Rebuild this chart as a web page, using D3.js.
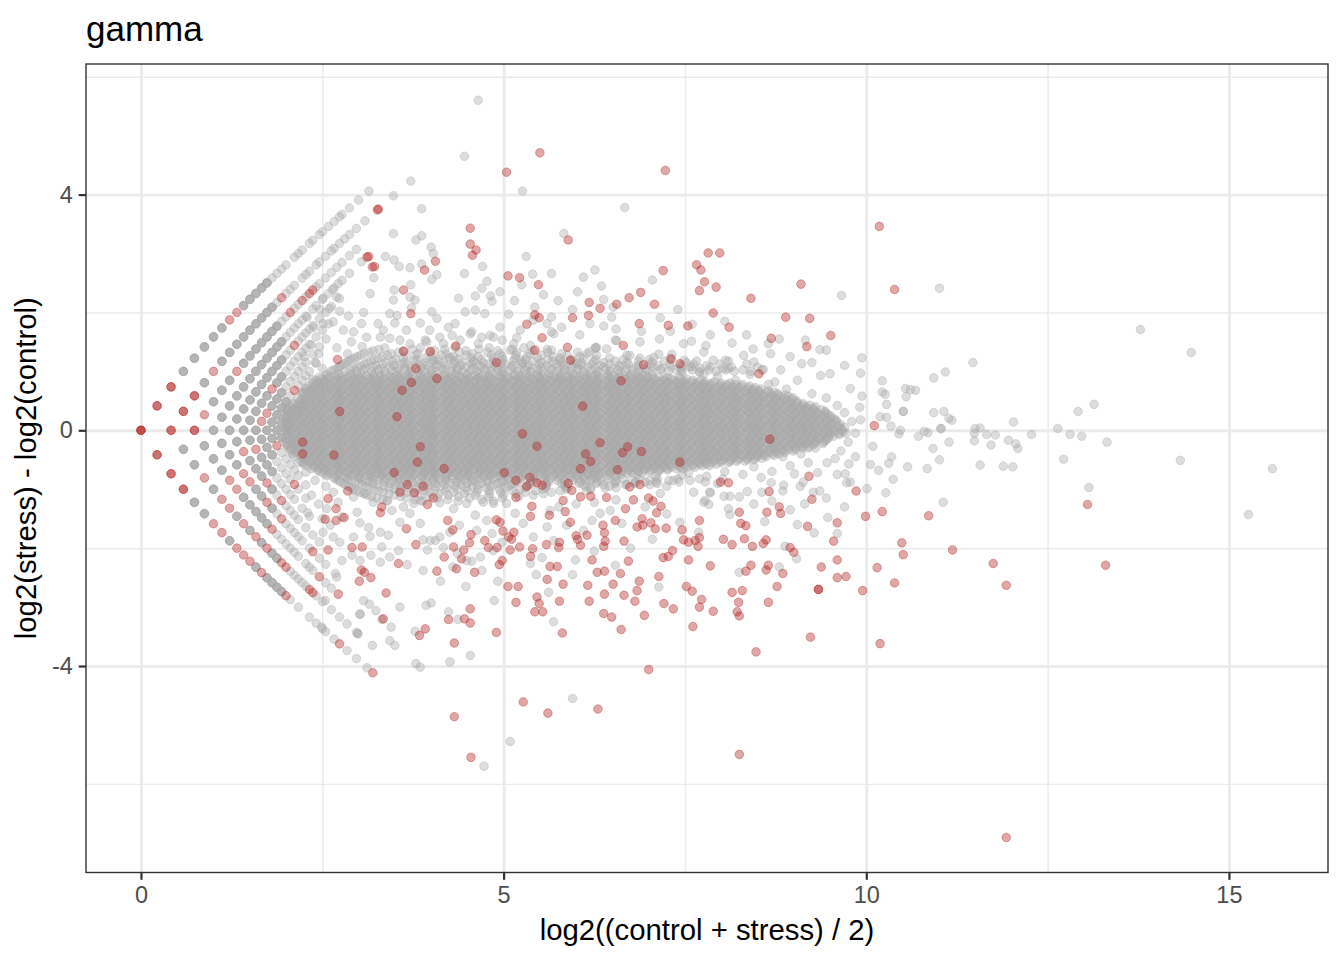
<!DOCTYPE html>
<html>
<head>
<meta charset="utf-8">
<title>gamma</title>
<script src="https://d3js.org/d3.v7.min.js"></script>
<style>
    body { margin: 0; background: #ffffff; }
    svg text { font-family: "Liberation Sans", Arial, Helvetica, sans-serif; }
</style>
</head>
<body>
<div id="chart"></div>
<script>
// Description: MA plot "gamma" - mean expression vs. log2 fold change (stress vs. control)

// Low-count genes sit on a lattice of summed counts over the replicates
const REPLICATES = 3;

// Upper side of the lattice: [control sum, genes per spot, stress sums]
const upperGray = [
    [3, 4, [6, 7, 8, 9, 10, 13, 14, 15, 16, 17]],
    [3, 1, [18, 19, 20, 21, 23, 24, 25, 27, 28, 30, 31, 33, 35, 37, 38, 41, 45, 50]],
    [4, 4, [7, 9, 10, 11, 12, 13, 14, 15, 16, 17]],
    [4, 1, [18, 20, 21, 22, 24, 25, 26, 28, 29, 31, 33, 34, 36, 38, 40, 43, 47]],
    [5, 4, [7, 8, 9, 11, 12, 13, 14, 15, 16, 17]],
    [5, 1, [18, 19, 21, 22, 24, 27, 28, 30, 32, 34, 36, 39, 42]],
    [6, 4, [6, 7, 8, 9, 10, 11, 12, 13, 14, 15, 16, 17]],
    [6, 1, [18, 19, 20, 21, 22, 23, 25, 26, 28, 30, 32, 35, 38]],
    [7, 4, [7, 8, 9, 10, 11, 12, 13, 14, 15, 16]],
    [7, 1, [17, 18, 20, 21, 22, 23, 24, 26, 28, 30, 33]],
    [8, 4, [8, 9, 10, 11, 12, 14, 15]],
    [8, 1, [16, 17, 18, 19, 20, 21, 22, 24, 26, 28]],
    [9, 4, [9, 12, 13, 14]],
    [9, 1, [15, 16, 17, 18, 19, 20, 22, 24]],
    [10, 4, [10, 11, 12, 13, 14]],
    [10, 1, [15, 17, 18, 19, 20, 22]],
    [11, 4, [11, 12, 13]],
    [11, 1, [14, 15, 16, 17, 18, 20]],
    [12, 4, [12, 13]],
    [12, 1, [14, 15, 16, 17, 19]]
];
const upperRed = [
    [3, 3, [3]],
    [3, 2, [4, 5]],
    [3, 1, [11, 12]],
    [4, 2, [4, 5, 6]],
    [4, 1, [8, 19, 54]],
    [5, 2, [5]],
    [5, 1, [6, 10, 20, 23, 25, 26]],
    [6, 1, [46]],
    [7, 1, [19]],
    [8, 1, [13]],
    [9, 1, [10, 11]],
    [10, 1, [16]]
];

// Lower side of the lattice: [stress sum, genes per spot, control sums]
const lowerGray = [
    [3, 4, [7, 8, 11, 15, 17, 18, 19, 20]],
    [3, 1, [22, 24, 27, 29, 31, 32, 35, 40, 44, 49]],
    [4, 4, [5, 6, 8, 11, 13, 15, 17, 18]],
    [4, 1, [21, 22, 23, 24, 25, 28, 30, 33, 36, 39, 43]],
    [5, 4, [6, 7, 8, 11, 12, 13, 14, 15]],
    [5, 1, [17, 18, 19, 20, 21, 22, 24, 25, 26, 30, 32]],
    [6, 4, [7, 8, 9, 12, 13, 15]],
    [6, 1, [16, 18, 19, 20, 21, 22, 24, 27, 29]],
    [7, 4, [8, 10, 11, 12, 14]],
    [7, 1, [15, 17, 18, 19, 20, 22, 24, 26]],
    [8, 4, [9, 11, 12, 13]],
    [8, 1, [14, 15, 16, 17, 18, 20, 22]],
    [9, 4, [10, 11, 12]],
    [9, 1, [13, 14, 15, 16, 18, 20]],
    [10, 4, [11]],
    [10, 1, [13, 14, 15, 16, 17, 19]],
    [11, 4, [12]],
    [11, 1, [13, 14, 15, 16, 18]],
    [12, 1, [13, 14, 15, 17]]
];
const lowerRed = [
    [3, 2, [4, 5, 6]],
    [3, 1, [9, 10, 12, 13, 14, 16, 21, 37, 52]],
    [4, 1, [7, 9, 10, 12, 14, 16, 19, 20, 26, 27]],
    [5, 1, [9, 10, 16, 28]],
    [6, 1, [10, 11, 14, 17, 25]],
    [7, 1, [9, 13, 16]],
    [8, 1, [10]],
    [9, 1, [17]],
    [10, 1, [12]]
];

// Dense body of the cloud, read row by row: [log2 ratio, mean log2 expression values]
const coreRows = [
    [1.40, [3.36, 3.85, 4.33, 4.80, 5.28]],
    [1.35, [3.20, 3.62, 4.05, 4.48, 4.92, 5.40]],
    [1.30, [3.08, 3.45, 3.82, 4.21, 4.57, 4.95, 5.36, 5.80]],
    [1.25, [2.98, 3.33, 3.66, 4.00, 4.31, 4.65, 4.98, 5.32, 5.68, 6.05]],
    [1.20, [2.90, 3.22, 3.51, 3.80, 4.10, 4.38, 4.69, 4.99, 5.30, 5.61, 5.93, 6.27, 6.65]],
    [1.15, [2.83, 3.12, 3.38, 3.63, 3.91, 4.17, 4.43, 4.72, 4.97, 5.26, 5.52, 5.80, 6.07, 6.38, 6.70, 7.05, 7.52]],
    [1.10, [2.76, 3.02, 3.24, 3.49, 3.70, 3.95, 4.19, 4.41, 4.66, 4.88, 5.12, 5.35, 5.60, 5.83, 6.08, 6.33, 6.59, 6.86, 7.13, 7.45, 7.80]],
    [1.05, [2.70, 2.93, 3.10, 3.31, 3.55, 3.72, 3.96, 4.15, 4.36, 4.58, 4.77, 4.99, 5.22, 5.40, 5.63, 5.85, 6.03, 6.27, 6.48, 6.70, 6.94, 7.18, 7.44, 7.71, 8.02]],
    [1.00, [2.62, 2.81, 2.97, 3.18, 3.36, 3.52, 3.73, 3.90, 4.07, 4.28, 4.44, 4.63, 4.82, 4.98, 5.19, 5.37, 5.53, 5.74, 5.91, 6.10, 6.30, 6.47, 6.68, 6.86, 7.05, 7.27, 7.46, 7.70, 7.93, 8.18, 8.41]],
    [0.95, [2.57, 2.72, 2.90, 3.04, 3.21, 3.37, 3.56, 3.69, 3.86, 4.01, 4.19, 4.33, 4.50, 4.66, 4.85, 4.98, 5.15, 5.30, 5.48, 5.62, 5.79, 5.95, 6.14, 6.27, 6.44, 6.59, 6.77, 6.91]],
    [0.90, [2.46, 2.59, 2.74, 2.86, 3.02, 3.16, 3.29, 3.44, 3.56, 3.69, 3.84, 3.96, 4.12, 4.26, 4.39, 4.54, 4.66, 4.79, 4.94, 5.06, 5.22, 5.36, 5.49, 5.64, 5.76, 5.89, 6.04, 6.16, 6.32, 6.46, 6.59, 6.74, 6.86, 6.99, 7.14, 7.26, 7.42]],
    [0.85, [2.41, 2.53, 2.67, 2.78, 2.93, 3.06, 3.18, 3.32, 3.45, 3.57, 3.71, 3.82, 3.97, 4.10, 4.22, 4.36, 4.49, 4.61, 4.75, 4.86, 5.01, 5.14, 5.26, 5.40, 5.53, 5.65, 5.79, 5.90, 6.05, 6.18, 6.30, 6.44, 6.57, 6.69, 6.83, 6.94, 7.09, 7.22, 7.34, 7.48, 7.61, 7.73]],
    [0.80, [2.36, 2.47, 2.60, 2.70, 2.84, 2.96, 3.07, 3.20, 3.32, 3.43, 3.56, 3.66, 3.80, 3.92, 4.03, 4.16, 4.28, 4.39, 4.52, 4.62, 4.76, 4.88, 4.99, 5.12, 5.24, 5.35, 5.48, 5.58, 5.72, 5.84, 5.95, 6.08, 6.20, 6.31, 6.44, 6.54, 6.68, 6.80, 6.91, 7.04, 7.16, 7.27, 7.40, 7.50, 7.64, 7.76, 7.87, 8.00, 8.12]],
    [0.75, [2.31, 2.41, 2.53, 2.62, 2.73, 2.86, 2.96, 3.04, 3.16, 3.27, 3.37, 3.50, 3.59, 3.69, 3.81, 3.90, 4.01, 4.14, 4.24, 4.32, 4.44, 4.55, 4.65, 4.78, 4.87, 4.97, 5.09, 5.18, 5.29, 5.42, 5.52, 5.60, 5.72, 5.83, 5.93, 6.06, 6.15, 6.25, 6.37, 6.46, 6.57, 6.70, 6.80, 6.88, 7.00, 7.11, 7.21, 7.34, 7.43, 7.53, 7.65, 7.74, 7.85, 7.98, 8.08, 8.16, 8.28, 8.39]],
    [0.70, [2.27, 2.36, 2.47, 2.60, 2.70, 2.78, 2.90, 3.01, 3.11, 3.24, 3.33, 3.43, 3.55, 3.64, 3.75, 3.88, 3.98, 4.06, 4.18, 4.29, 4.39, 4.52, 4.61, 4.71, 4.83, 4.92, 5.03, 5.16, 5.26, 5.34, 5.46, 5.57, 5.67, 5.80, 5.89, 5.99, 6.11, 6.20, 6.31, 6.44, 6.54, 6.62, 6.74, 6.85, 6.95, 7.08, 7.17, 7.27, 7.39, 7.48, 7.59, 7.72, 7.82, 7.90, 8.02, 8.13, 8.23, 8.36, 8.45, 8.55]],
    [0.65, [2.24, 2.33, 2.44, 2.57, 2.67, 2.75, 2.87, 2.98, 3.08, 3.21, 3.30, 3.40, 3.52, 3.61, 3.72, 3.85, 3.95, 4.03, 4.15, 4.26, 4.36, 4.49, 4.58, 4.68, 4.80, 4.89, 5.00, 5.13, 5.23, 5.31, 5.43, 5.54, 5.64, 5.77, 5.86, 5.96, 6.08, 6.17, 6.28, 6.41, 6.51, 6.59, 6.71, 6.82, 6.92, 7.05, 7.14, 7.24, 7.36, 7.45, 7.56, 7.69, 7.79, 7.87, 7.99, 8.10, 8.20, 8.33, 8.42, 8.52, 8.64, 8.73]],
    [0.60, [2.29, 2.38, 2.49, 2.62, 2.72, 2.80, 2.92, 3.03, 3.13, 3.26, 3.35, 3.45, 3.57, 3.66, 3.77, 3.90, 4.00, 4.08, 4.20, 4.31, 4.41, 4.54, 4.63, 4.73, 4.85, 4.94, 5.05, 5.18, 5.28, 5.36, 5.48, 5.59, 5.69, 5.82, 5.91, 6.01, 6.13, 6.22, 6.33, 6.46, 6.56, 6.64, 6.76, 6.87, 6.97, 7.10, 7.19, 7.29, 7.41, 7.50, 7.61, 7.74, 7.84, 7.92, 8.04, 8.15, 8.25, 8.38, 8.47, 8.57, 8.69, 8.78, 8.89]],
    [0.55, [2.26, 2.35, 2.46, 2.59, 2.69, 2.77, 2.89, 3.00, 3.10, 3.23, 3.32, 3.42, 3.54, 3.63, 3.74, 3.87, 3.97, 4.05, 4.17, 4.28, 4.38, 4.51, 4.60, 4.70, 4.82, 4.91, 5.02, 5.15, 5.25, 5.33, 5.45, 5.56, 5.66, 5.79, 5.88, 5.98, 6.10, 6.19, 6.30, 6.43, 6.53, 6.61, 6.73, 6.84, 6.94, 7.07, 7.16, 7.26, 7.38, 7.47, 7.58, 7.71, 7.81, 7.89, 8.01, 8.12, 8.22, 8.35, 8.44, 8.54, 8.66, 8.75, 8.86, 8.99]],
    [0.50, [2.19, 2.31, 2.40, 2.51, 2.64, 2.74, 2.82, 2.94, 3.05, 3.15, 3.28, 3.37, 3.47, 3.59, 3.68, 3.79, 3.92, 4.02, 4.10, 4.22, 4.33, 4.43, 4.56, 4.65, 4.75, 4.87, 4.96, 5.07, 5.20, 5.30, 5.38, 5.50, 5.61, 5.71, 5.84, 5.93, 6.03, 6.15, 6.24, 6.35, 6.48, 6.58, 6.66, 6.78, 6.89, 6.99, 7.12, 7.21, 7.31, 7.43, 7.52, 7.63, 7.76, 7.86, 7.94, 8.06, 8.17, 8.27, 8.40, 8.49, 8.59, 8.71, 8.80, 8.91, 9.04]],
    [0.45, [2.10, 2.22, 2.31, 2.42, 2.55, 2.65, 2.73, 2.85, 2.96, 3.06, 3.19, 3.28, 3.38, 3.50, 3.59, 3.70, 3.83, 3.93, 4.01, 4.13, 4.24, 4.34, 4.47, 4.56, 4.66, 4.78, 4.87, 4.98, 5.11, 5.21, 5.29, 5.41, 5.52, 5.62, 5.75, 5.84, 5.94, 6.06, 6.15, 6.26, 6.39, 6.49, 6.57, 6.69, 6.80, 6.90, 7.03, 7.12, 7.22, 7.34, 7.43, 7.54, 7.67, 7.77, 7.85, 7.97, 8.08, 8.18, 8.31, 8.40, 8.50, 8.62, 8.71, 8.82, 8.95, 9.05, 9.13]],
    [0.40, [2.05, 2.15, 2.27, 2.36, 2.47, 2.60, 2.70, 2.78, 2.90, 3.01, 3.11, 3.24, 3.33, 3.43, 3.55, 3.64, 3.75, 3.88, 3.98, 4.06, 4.18, 4.29, 4.39, 4.52, 4.61, 4.71, 4.83, 4.92, 5.03, 5.16, 5.26, 5.34, 5.46, 5.57, 5.67, 5.80, 5.89, 5.99, 6.11, 6.20, 6.31, 6.44, 6.54, 6.62, 6.74, 6.85, 6.95, 7.08, 7.17, 7.27, 7.39, 7.48, 7.59, 7.72, 7.82, 7.90, 8.02, 8.13, 8.23, 8.36, 8.45, 8.55, 8.67, 8.76, 8.87, 9.00, 9.10, 9.18, 9.30]],
    [0.35, [2.02, 2.12, 2.24, 2.33, 2.44, 2.57, 2.67, 2.75, 2.87, 2.98, 3.08, 3.21, 3.30, 3.40, 3.52, 3.61, 3.72, 3.85, 3.95, 4.03, 4.15, 4.26, 4.36, 4.49, 4.58, 4.68, 4.80, 4.89, 5.00, 5.13, 5.23, 5.31, 5.43, 5.54, 5.64, 5.77, 5.86, 5.96, 6.08, 6.17, 6.28, 6.41, 6.51, 6.59, 6.71, 6.82, 6.92, 7.05, 7.14, 7.24, 7.36, 7.45, 7.56, 7.69, 7.79, 7.87, 7.99, 8.10, 8.20, 8.33, 8.42, 8.52, 8.64, 8.73, 8.84, 8.97, 9.07, 9.15, 9.27, 9.38]],
    [0.30, [2.07, 2.17, 2.29, 2.38, 2.49, 2.62, 2.72, 2.80, 2.92, 3.03, 3.13, 3.26, 3.35, 3.45, 3.57, 3.66, 3.77, 3.90, 4.00, 4.08, 4.20, 4.31, 4.41, 4.54, 4.63, 4.73, 4.85, 4.94, 5.05, 5.18, 5.28, 5.36, 5.48, 5.59, 5.69, 5.82, 5.91, 6.01, 6.13, 6.22, 6.33, 6.46, 6.56, 6.64, 6.76, 6.87, 6.97, 7.10, 7.19, 7.29, 7.41, 7.50, 7.61, 7.74, 7.84, 7.92, 8.04, 8.15, 8.25, 8.38, 8.47, 8.57, 8.69, 8.78, 8.89, 9.02, 9.12, 9.20, 9.32, 9.43]],
    [0.25, [2.04, 2.14, 2.26, 2.35, 2.46, 2.59, 2.69, 2.77, 2.89, 3.00, 3.10, 3.23, 3.32, 3.42, 3.54, 3.63, 3.74, 3.87, 3.97, 4.05, 4.17, 4.28, 4.38, 4.51, 4.60, 4.70, 4.82, 4.91, 5.02, 5.15, 5.25, 5.33, 5.45, 5.56, 5.66, 5.79, 5.88, 5.98, 6.10, 6.19, 6.30, 6.43, 6.53, 6.61, 6.73, 6.84, 6.94, 7.07, 7.16, 7.26, 7.38, 7.47, 7.58, 7.71, 7.81, 7.89, 8.01, 8.12, 8.22, 8.35, 8.44, 8.54, 8.66, 8.75, 8.86, 8.99, 9.09, 9.17, 9.29, 9.40, 9.50]],
    [0.20, [2.09, 2.19, 2.31, 2.40, 2.51, 2.64, 2.74, 2.82, 2.94, 3.05, 3.15, 3.28, 3.37, 3.47, 3.59, 3.68, 3.79, 3.92, 4.02, 4.10, 4.22, 4.33, 4.43, 4.56, 4.65, 4.75, 4.87, 4.96, 5.07, 5.20, 5.30, 5.38, 5.50, 5.61, 5.71, 5.84, 5.93, 6.03, 6.15, 6.24, 6.35, 6.48, 6.58, 6.66, 6.78, 6.89, 6.99, 7.12, 7.21, 7.31, 7.43, 7.52, 7.63, 7.76, 7.86, 7.94, 8.06, 8.17, 8.27, 8.40, 8.49, 8.59, 8.71, 8.80, 8.91, 9.04, 9.14, 9.22, 9.34, 9.45, 9.55]],
    [0.15, [2.00, 2.10, 2.22, 2.31, 2.42, 2.55, 2.65, 2.73, 2.85, 2.96, 3.06, 3.19, 3.28, 3.38, 3.50, 3.59, 3.70, 3.83, 3.93, 4.01, 4.13, 4.24, 4.34, 4.47, 4.56, 4.66, 4.78, 4.87, 4.98, 5.11, 5.21, 5.29, 5.41, 5.52, 5.62, 5.75, 5.84, 5.94, 6.06, 6.15, 6.26, 6.39, 6.49, 6.57, 6.69, 6.80, 6.90, 7.03, 7.12, 7.22, 7.34, 7.43, 7.54, 7.67, 7.77, 7.85, 7.97, 8.08, 8.18, 8.31, 8.40, 8.50, 8.62, 8.71, 8.82, 8.95, 9.05, 9.13, 9.25, 9.36, 9.46, 9.59]],
    [0.10, [2.05, 2.15, 2.27, 2.36, 2.47, 2.60, 2.70, 2.78, 2.90, 3.01, 3.11, 3.24, 3.33, 3.43, 3.55, 3.64, 3.75, 3.88, 3.98, 4.06, 4.18, 4.29, 4.39, 4.52, 4.61, 4.71, 4.83, 4.92, 5.03, 5.16, 5.26, 5.34, 5.46, 5.57, 5.67, 5.80, 5.89, 5.99, 6.11, 6.20, 6.31, 6.44, 6.54, 6.62, 6.74, 6.85, 6.95, 7.08, 7.17, 7.27, 7.39, 7.48, 7.59, 7.72, 7.82, 7.90, 8.02, 8.13, 8.23, 8.36, 8.45, 8.55, 8.67, 8.76, 8.87, 9.00, 9.10, 9.18, 9.30, 9.41, 9.51, 9.64]],
    [0.05, [2.02, 2.12, 2.24, 2.33, 2.44, 2.57, 2.67, 2.75, 2.87, 2.98, 3.08, 3.21, 3.30, 3.40, 3.52, 3.61, 3.72, 3.85, 3.95, 4.03, 4.15, 4.26, 4.36, 4.49, 4.58, 4.68, 4.80, 4.89, 5.00, 5.13, 5.23, 5.31, 5.43, 5.54, 5.64, 5.77, 5.86, 5.96, 6.08, 6.17, 6.28, 6.41, 6.51, 6.59, 6.71, 6.82, 6.92, 7.05, 7.14, 7.24, 7.36, 7.45, 7.56, 7.69, 7.79, 7.87, 7.99, 8.10, 8.20, 8.33, 8.42, 8.52, 8.64, 8.73, 8.84, 8.97, 9.07, 9.15, 9.27, 9.38, 9.48, 9.61, 9.70]],
    [0.00, [2.07, 2.17, 2.29, 2.38, 2.49, 2.62, 2.72, 2.80, 2.92, 3.03, 3.13, 3.26, 3.35, 3.45, 3.57, 3.66, 3.77, 3.90, 4.00, 4.08, 4.20, 4.31, 4.41, 4.54, 4.63, 4.73, 4.85, 4.94, 5.05, 5.18, 5.28, 5.36, 5.48, 5.59, 5.69, 5.82, 5.91, 6.01, 6.13, 6.22, 6.33, 6.46, 6.56, 6.64, 6.76, 6.87, 6.97, 7.10, 7.19, 7.29, 7.41, 7.50, 7.61, 7.74, 7.84, 7.92, 8.04, 8.15, 8.25, 8.38, 8.47, 8.57, 8.69, 8.78, 8.89, 9.02, 9.12, 9.20, 9.32, 9.43, 9.53, 9.66]],
    [-0.05, [2.04, 2.14, 2.26, 2.35, 2.46, 2.59, 2.69, 2.77, 2.89, 3.00, 3.10, 3.23, 3.32, 3.42, 3.54, 3.63, 3.74, 3.87, 3.97, 4.05, 4.17, 4.28, 4.38, 4.51, 4.60, 4.70, 4.82, 4.91, 5.02, 5.15, 5.25, 5.33, 5.45, 5.56, 5.66, 5.79, 5.88, 5.98, 6.10, 6.19, 6.30, 6.43, 6.53, 6.61, 6.73, 6.84, 6.94, 7.07, 7.16, 7.26, 7.38, 7.47, 7.58, 7.71, 7.81, 7.89, 8.01, 8.12, 8.22, 8.35, 8.44, 8.54, 8.66, 8.75, 8.86, 8.99, 9.09, 9.17, 9.29, 9.40, 9.50, 9.63, 9.72]],
    [-0.10, [2.09, 2.19, 2.31, 2.40, 2.51, 2.64, 2.74, 2.82, 2.94, 3.05, 3.15, 3.28, 3.37, 3.47, 3.59, 3.68, 3.79, 3.92, 4.02, 4.10, 4.22, 4.33, 4.43, 4.56, 4.65, 4.75, 4.87, 4.96, 5.07, 5.20, 5.30, 5.38, 5.50, 5.61, 5.71, 5.84, 5.93, 6.03, 6.15, 6.24, 6.35, 6.48, 6.58, 6.66, 6.78, 6.89, 6.99, 7.12, 7.21, 7.31, 7.43, 7.52, 7.63, 7.76, 7.86, 7.94, 8.06, 8.17, 8.27, 8.40, 8.49, 8.59, 8.71, 8.80, 8.91, 9.04, 9.14, 9.22, 9.34, 9.45, 9.55]],
    [-0.15, [2.00, 2.10, 2.22, 2.31, 2.42, 2.55, 2.65, 2.73, 2.85, 2.96, 3.06, 3.19, 3.28, 3.38, 3.50, 3.59, 3.70, 3.83, 3.93, 4.01, 4.13, 4.24, 4.34, 4.47, 4.56, 4.66, 4.78, 4.87, 4.98, 5.11, 5.21, 5.29, 5.41, 5.52, 5.62, 5.75, 5.84, 5.94, 6.06, 6.15, 6.26, 6.39, 6.49, 6.57, 6.69, 6.80, 6.90, 7.03, 7.12, 7.22, 7.34, 7.43, 7.54, 7.67, 7.77, 7.85, 7.97, 8.08, 8.18, 8.31, 8.40, 8.50, 8.62, 8.71, 8.82, 8.95, 9.05, 9.13, 9.25, 9.36, 9.46]],
    [-0.20, [2.05, 2.15, 2.27, 2.36, 2.47, 2.60, 2.70, 2.78, 2.90, 3.01, 3.11, 3.24, 3.33, 3.43, 3.55, 3.64, 3.75, 3.88, 3.98, 4.06, 4.18, 4.29, 4.39, 4.52, 4.61, 4.71, 4.83, 4.92, 5.03, 5.16, 5.26, 5.34, 5.46, 5.57, 5.67, 5.80, 5.89, 5.99, 6.11, 6.20, 6.31, 6.44, 6.54, 6.62, 6.74, 6.85, 6.95, 7.08, 7.17, 7.27, 7.39, 7.48, 7.59, 7.72, 7.82, 7.90, 8.02, 8.13, 8.23, 8.36, 8.45, 8.55, 8.67, 8.76, 8.87, 9.00, 9.10, 9.18, 9.30, 9.41]],
    [-0.25, [2.02, 2.12, 2.24, 2.33, 2.44, 2.57, 2.67, 2.75, 2.87, 2.98, 3.08, 3.21, 3.30, 3.40, 3.52, 3.61, 3.72, 3.85, 3.95, 4.03, 4.15, 4.26, 4.36, 4.49, 4.58, 4.68, 4.80, 4.89, 5.00, 5.13, 5.23, 5.31, 5.43, 5.54, 5.64, 5.77, 5.86, 5.96, 6.08, 6.17, 6.28, 6.41, 6.51, 6.59, 6.71, 6.82, 6.92, 7.05, 7.14, 7.24, 7.36, 7.45, 7.56, 7.69, 7.79, 7.87, 7.99, 8.10, 8.20, 8.33, 8.42, 8.52, 8.64, 8.73, 8.84, 8.97, 9.07, 9.15, 9.27]],
    [-0.30, [2.07, 2.17, 2.29, 2.38, 2.49, 2.62, 2.72, 2.80, 2.92, 3.03, 3.13, 3.26, 3.35, 3.45, 3.57, 3.66, 3.77, 3.90, 4.00, 4.08, 4.20, 4.31, 4.41, 4.54, 4.63, 4.73, 4.85, 4.94, 5.05, 5.18, 5.28, 5.36, 5.48, 5.59, 5.69, 5.82, 5.91, 6.01, 6.13, 6.22, 6.33, 6.46, 6.56, 6.64, 6.76, 6.87, 6.97, 7.10, 7.19, 7.29, 7.41, 7.50, 7.61, 7.74, 7.84, 7.92, 8.04, 8.15, 8.25, 8.38, 8.47, 8.57, 8.69, 8.78, 8.89, 9.02, 9.12, 9.20]],
    [-0.35, [2.14, 2.26, 2.35, 2.46, 2.59, 2.69, 2.77, 2.89, 3.00, 3.10, 3.23, 3.32, 3.42, 3.54, 3.63, 3.74, 3.87, 3.97, 4.05, 4.17, 4.28, 4.38, 4.51, 4.60, 4.70, 4.82, 4.91, 5.02, 5.15, 5.25, 5.33, 5.45, 5.56, 5.66, 5.79, 5.88, 5.98, 6.10, 6.19, 6.30, 6.43, 6.53, 6.61, 6.73, 6.84, 6.94, 7.07, 7.16, 7.26, 7.38, 7.47, 7.58, 7.71, 7.81, 7.89, 8.01, 8.12, 8.22, 8.35, 8.44, 8.54, 8.66, 8.75, 8.86, 8.99]],
    [-0.40, [2.09, 2.19, 2.31, 2.40, 2.51, 2.64, 2.74, 2.82, 2.94, 3.05, 3.15, 3.28, 3.37, 3.47, 3.59, 3.68, 3.79, 3.92, 4.02, 4.10, 4.22, 4.33, 4.43, 4.56, 4.65, 4.75, 4.87, 4.96, 5.07, 5.20, 5.30, 5.38, 5.50, 5.61, 5.71, 5.84, 5.93, 6.03, 6.15, 6.24, 6.35, 6.48, 6.58, 6.66, 6.78, 6.89, 6.99, 7.12, 7.21, 7.31, 7.43, 7.52, 7.63, 7.76, 7.86, 7.94, 8.06, 8.17, 8.27, 8.40, 8.49, 8.59, 8.71, 8.80]],
    [-0.45, [2.22, 2.31, 2.42, 2.55, 2.65, 2.73, 2.85, 2.96, 3.06, 3.19, 3.28, 3.38, 3.50, 3.59, 3.70, 3.83, 3.93, 4.01, 4.13, 4.24, 4.34, 4.47, 4.56, 4.66, 4.78, 4.87, 4.98, 5.11, 5.21, 5.29, 5.41, 5.52, 5.62, 5.75, 5.84, 5.94, 6.06, 6.15, 6.26, 6.39, 6.49, 6.57, 6.69, 6.80, 6.90, 7.03, 7.12, 7.22, 7.34, 7.43, 7.54, 7.67, 7.77, 7.85, 7.97, 8.08, 8.18, 8.31, 8.40, 8.50, 8.62]],
    [-0.50, [2.27, 2.36, 2.47, 2.60, 2.70, 2.78, 2.90, 3.01, 3.11, 3.24, 3.33, 3.43, 3.55, 3.64, 3.75, 3.88, 3.98, 4.06, 4.18, 4.29, 4.39, 4.52, 4.61, 4.71, 4.83, 4.92, 5.03, 5.16, 5.26, 5.34, 5.46, 5.57, 5.67, 5.80, 5.89, 5.99, 6.11, 6.20, 6.31, 6.44, 6.54, 6.62, 6.74, 6.85, 6.95, 7.08, 7.17, 7.27, 7.39, 7.48, 7.59, 7.72, 7.82, 7.90, 8.02, 8.13, 8.23, 8.36, 8.45]],
    [-0.55, [2.24, 2.33, 2.44, 2.57, 2.67, 2.75, 2.87, 2.98, 3.08, 3.21, 3.30, 3.40, 3.52, 3.61, 3.72, 3.85, 3.95, 4.03, 4.15, 4.26, 4.36, 4.49, 4.58, 4.68, 4.80, 4.89, 5.00, 5.13, 5.23, 5.31, 5.43, 5.54, 5.64, 5.77, 5.86, 5.96, 6.08, 6.17, 6.28, 6.41, 6.51, 6.59, 6.71, 6.82, 6.92, 7.05, 7.14, 7.24, 7.36, 7.45, 7.56, 7.69, 7.79, 7.87, 7.99, 8.10]],
    [-0.60, [2.29, 2.38, 2.49, 2.62, 2.72, 2.80, 2.92, 3.03, 3.13, 3.26, 3.35, 3.45, 3.57, 3.66, 3.77, 3.90, 4.00, 4.08, 4.20, 4.31, 4.41, 4.54, 4.63, 4.73, 4.85, 4.94, 5.05, 5.18, 5.28, 5.36, 5.48, 5.59, 5.69, 5.82, 5.91, 6.01, 6.13, 6.22, 6.33, 6.46, 6.56, 6.64, 6.76, 6.87, 6.97, 7.10, 7.19, 7.29, 7.41, 7.50, 7.61, 7.74, 7.84]],
    [-0.65, [2.35, 2.46, 2.59, 2.69, 2.77, 2.89, 3.00, 3.10, 3.23, 3.32, 3.42, 3.54, 3.63, 3.74, 3.87, 3.97, 4.05, 4.17, 4.28, 4.38, 4.51, 4.60, 4.70, 4.82, 4.91, 5.02, 5.15, 5.25, 5.33, 5.45, 5.56, 5.66, 5.79, 5.88, 5.98, 6.10, 6.19, 6.30, 6.43, 6.53, 6.61, 6.73, 6.84, 6.94, 7.07, 7.16, 7.26, 7.38, 7.47]],
    [-0.70, [2.46, 2.58, 2.72, 2.85, 2.96, 3.11, 3.24, 3.36, 3.50, 3.63, 3.74, 3.89, 4.02, 4.14, 4.28, 4.41, 4.52, 4.67, 4.80, 4.92, 5.06, 5.19, 5.30, 5.45, 5.58, 5.70, 5.84, 5.97, 6.08, 6.23, 6.36, 6.48, 6.62, 6.75, 6.86, 7.01, 7.13]],
    [-0.75, [2.57, 2.71, 2.87, 3.01, 3.16, 3.32, 3.46, 3.61, 3.77, 3.91, 4.06, 4.22, 4.36, 4.51, 4.67, 4.81, 4.96, 5.12, 5.26, 5.41, 5.57, 5.71, 5.86, 6.02, 6.16, 6.31, 6.47, 6.62]],
    [-0.80, [2.66, 2.83, 3.01, 3.17, 3.35, 3.52, 3.69, 3.87, 4.03, 4.21, 4.38, 4.55, 4.73, 4.89, 5.07, 5.24, 5.41, 5.59, 5.75, 5.93, 6.10, 6.27]],
    [-0.85, [2.72, 2.90, 3.09, 3.26, 3.47, 3.64, 3.83, 4.03, 4.20, 4.41, 4.59, 4.78, 4.99, 5.16, 5.37, 5.56, 5.74, 5.95, 6.13, 6.34, 6.55, 6.77, 7.01, 7.28, 7.57]],
    [-0.90, [2.79, 3.01, 3.20, 3.43, 3.62, 3.85, 4.06, 4.27, 4.50, 4.70, 4.93, 5.14, 5.36, 5.59, 5.80, 6.04, 6.28, 6.53, 6.81, 7.12]],
    [-0.95, [2.86, 3.11, 3.35, 3.58, 3.84, 4.07, 4.33, 4.57, 4.82, 5.07, 5.32, 5.58, 5.85, 6.14, 6.46]],
    [-1.00, [2.93, 3.22, 3.50, 3.79, 4.06, 4.36, 4.64, 4.94, 5.23, 5.54, 5.86, 6.20]],
    [-1.05, [3.02, 3.34, 3.67, 3.98, 4.31, 4.63, 4.96, 5.30, 5.66]],
    [-1.10, [3.12, 3.49, 3.86, 4.24, 4.61, 5.00, 5.41]],
    [-1.15, [3.25, 3.66, 4.09, 4.53, 4.98]],
    [-1.20, [3.40, 3.88, 4.37, 4.86]]
];

// Second pass over the dense body, rows in between the ones above
const coreRowsBetween = [
    [1.375, [3.28, 3.74, 4.19, 4.66, 5.12, 5.60]],
    [1.325, [3.15, 3.55, 3.98, 4.39, 4.78, 5.18, 5.61, 6.02]],
    [1.275, [3.03, 3.40, 3.79, 4.14, 4.49, 4.83, 5.17, 5.52, 5.88, 6.28, 6.70]],
    [1.225, [2.94, 3.27, 3.62, 3.93, 4.25, 4.55, 4.86, 5.16, 5.47, 5.78, 6.10, 6.46, 6.88, 7.30]],
    [1.175, [2.86, 3.17, 3.47, 3.76, 4.04, 4.32, 4.59, 4.86, 5.13, 5.41, 5.68, 5.96, 6.24, 6.54, 6.86, 7.22, 7.66, 8.10]],
    [1.125, [2.80, 3.08, 3.33, 3.59, 3.83, 4.07, 4.31, 4.55, 4.79, 5.01, 5.25, 5.49, 5.73, 5.96, 6.21, 6.46, 6.72, 7.00, 7.29, 7.62, 7.98, 8.35]],
    [1.075, [2.73, 2.98, 3.20, 3.43, 3.64, 3.86, 4.07, 4.29, 4.48, 4.69, 4.90, 5.11, 5.32, 5.52, 5.74, 5.95, 6.16, 6.38, 6.60, 6.83, 7.06, 7.31, 7.57, 7.85, 8.14, 8.50]],
    [1.025, [2.66, 2.88, 3.07, 3.27, 3.46, 3.64, 3.83, 4.01, 4.19, 4.37, 4.55, 4.74, 4.92, 5.10, 5.29, 5.47, 5.66, 5.84, 6.02, 6.21, 6.40, 6.58, 6.78, 6.97, 7.17, 7.38, 7.60, 7.83, 8.06, 8.30, 8.56, 8.82]],
    [0.925, [2.55, 2.68, 2.78, 2.90, 2.99, 3.11, 3.21, 3.30, 3.43, 3.53, 3.65, 3.74, 3.86, 3.96, 4.05, 4.18, 4.28, 4.40, 4.49, 4.61, 4.71, 4.80, 4.93, 5.03, 5.15, 5.24, 5.36, 5.46, 5.55, 5.68, 5.78, 5.90, 5.99, 6.11, 6.21, 6.30, 6.43, 6.53, 6.65, 6.74, 6.86, 6.96, 7.05]],
    [0.875, [2.49, 2.58, 2.71, 2.81, 2.93, 3.02, 3.14, 3.24, 3.33, 3.46, 3.56, 3.68, 3.77, 3.89, 3.99, 4.08, 4.21, 4.31, 4.43, 4.52, 4.64, 4.74, 4.83, 4.96, 5.06, 5.18, 5.27, 5.39, 5.49, 5.58, 5.71, 5.81, 5.93, 6.02, 6.14, 6.24, 6.33, 6.46, 6.56, 6.68, 6.77, 6.89, 6.99, 7.08, 7.21, 7.31, 7.43, 7.52]],
    [0.825, [2.44, 2.53, 2.66, 2.76, 2.88, 2.97, 3.09, 3.19, 3.28, 3.41, 3.51, 3.63, 3.72, 3.84, 3.94, 4.03, 4.16, 4.26, 4.38, 4.47, 4.59, 4.69, 4.78, 4.91, 5.01, 5.13, 5.22, 5.34, 5.44, 5.53, 5.66, 5.76, 5.88, 5.97, 6.09, 6.19, 6.28, 6.41, 6.51, 6.63, 6.72, 6.84, 6.94, 7.03, 7.16, 7.26, 7.38, 7.47, 7.59, 7.69, 7.78, 7.91]],
    [0.775, [2.41, 2.51, 2.60, 2.73, 2.83, 2.95, 3.04, 3.16, 3.26, 3.35, 3.48, 3.58, 3.70, 3.79, 3.91, 4.01, 4.10, 4.23, 4.33, 4.45, 4.54, 4.66, 4.76, 4.85, 4.98, 5.08, 5.20, 5.29, 5.41, 5.51, 5.60, 5.73, 5.83, 5.95, 6.04, 6.16, 6.26, 6.35, 6.48, 6.58, 6.70, 6.79, 6.91, 7.01, 7.10, 7.23, 7.33, 7.45, 7.54, 7.66, 7.76, 7.85, 7.98, 8.08, 8.20, 8.29]],
    [0.725, [2.37, 2.47, 2.56, 2.69, 2.79, 2.91, 3.00, 3.12, 3.22, 3.31, 3.44, 3.54, 3.66, 3.75, 3.87, 3.97, 4.06, 4.19, 4.29, 4.41, 4.50, 4.62, 4.72, 4.81, 4.94, 5.04, 5.16, 5.25, 5.37, 5.47, 5.56, 5.69, 5.79, 5.91, 6.00, 6.12, 6.22, 6.31, 6.44, 6.54, 6.66, 6.75, 6.87, 6.97, 7.06, 7.19, 7.29, 7.41, 7.50, 7.62, 7.72, 7.81, 7.94, 8.04, 8.16, 8.25, 8.37, 8.47]],
    [0.675, [2.33, 2.43, 2.52, 2.65, 2.75, 2.87, 2.96, 3.08, 3.18, 3.27, 3.40, 3.50, 3.62, 3.71, 3.83, 3.93, 4.02, 4.15, 4.25, 4.37, 4.46, 4.58, 4.68, 4.77, 4.90, 5.00, 5.12, 5.21, 5.33, 5.43, 5.52, 5.65, 5.75, 5.87, 5.96, 6.08, 6.18, 6.27, 6.40, 6.50, 6.62, 6.71, 6.83, 6.93, 7.02, 7.15, 7.25, 7.37, 7.46, 7.58, 7.68, 7.77, 7.90, 8.00, 8.12, 8.21, 8.33, 8.43, 8.52, 8.65]],
    [0.625, [2.24, 2.36, 2.46, 2.55, 2.68, 2.78, 2.90, 2.99, 3.11, 3.21, 3.30, 3.43, 3.53, 3.65, 3.74, 3.86, 3.96, 4.05, 4.18, 4.28, 4.40, 4.49, 4.61, 4.71, 4.80, 4.93, 5.03, 5.15, 5.24, 5.36, 5.46, 5.55, 5.68, 5.78, 5.90, 5.99, 6.11, 6.21, 6.30, 6.43, 6.53, 6.65, 6.74, 6.86, 6.96, 7.05, 7.18, 7.28, 7.40, 7.49, 7.61, 7.71, 7.80, 7.93, 8.03, 8.15, 8.24, 8.36, 8.46, 8.55, 8.68, 8.78]],
    [0.575, [2.27, 2.39, 2.49, 2.58, 2.71, 2.81, 2.93, 3.02, 3.14, 3.24, 3.33, 3.46, 3.56, 3.68, 3.77, 3.89, 3.99, 4.08, 4.21, 4.31, 4.43, 4.52, 4.64, 4.74, 4.83, 4.96, 5.06, 5.18, 5.27, 5.39, 5.49, 5.58, 5.71, 5.81, 5.93, 6.02, 6.14, 6.24, 6.33, 6.46, 6.56, 6.68, 6.77, 6.89, 6.99, 7.08, 7.21, 7.31, 7.43, 7.52, 7.64, 7.74, 7.83, 7.96, 8.06, 8.18, 8.27, 8.39, 8.49, 8.58, 8.71, 8.81, 8.93]],
    [0.525, [2.22, 2.34, 2.44, 2.53, 2.66, 2.76, 2.88, 2.97, 3.09, 3.19, 3.28, 3.41, 3.51, 3.63, 3.72, 3.84, 3.94, 4.03, 4.16, 4.26, 4.38, 4.47, 4.59, 4.69, 4.78, 4.91, 5.01, 5.13, 5.22, 5.34, 5.44, 5.53, 5.66, 5.76, 5.88, 5.97, 6.09, 6.19, 6.28, 6.41, 6.51, 6.63, 6.72, 6.84, 6.94, 7.03, 7.16, 7.26, 7.38, 7.47, 7.59, 7.69, 7.78, 7.91, 8.01, 8.13, 8.22, 8.34, 8.44, 8.53, 8.66, 8.76, 8.88, 8.97]],
    [0.475, [2.20, 2.29, 2.41, 2.51, 2.60, 2.73, 2.83, 2.95, 3.04, 3.16, 3.26, 3.35, 3.48, 3.58, 3.70, 3.79, 3.91, 4.01, 4.10, 4.23, 4.33, 4.45, 4.54, 4.66, 4.76, 4.85, 4.98, 5.08, 5.20, 5.29, 5.41, 5.51, 5.60, 5.73, 5.83, 5.95, 6.04, 6.16, 6.26, 6.35, 6.48, 6.58, 6.70, 6.79, 6.91, 7.01, 7.10, 7.23, 7.33, 7.45, 7.54, 7.66, 7.76, 7.85, 7.98, 8.08, 8.20, 8.29, 8.41, 8.51, 8.60, 8.73, 8.83, 8.95, 9.04]],
    [0.425, [2.16, 2.25, 2.37, 2.47, 2.56, 2.69, 2.79, 2.91, 3.00, 3.12, 3.22, 3.31, 3.44, 3.54, 3.66, 3.75, 3.87, 3.97, 4.06, 4.19, 4.29, 4.41, 4.50, 4.62, 4.72, 4.81, 4.94, 5.04, 5.16, 5.25, 5.37, 5.47, 5.56, 5.69, 5.79, 5.91, 6.00, 6.12, 6.22, 6.31, 6.44, 6.54, 6.66, 6.75, 6.87, 6.97, 7.06, 7.19, 7.29, 7.41, 7.50, 7.62, 7.72, 7.81, 7.94, 8.04, 8.16, 8.25, 8.37, 8.47, 8.56, 8.69, 8.79, 8.91, 9.00, 9.12, 9.22]],
    [0.375, [2.00, 2.12, 2.21, 2.33, 2.43, 2.52, 2.65, 2.75, 2.87, 2.96, 3.08, 3.18, 3.27, 3.40, 3.50, 3.62, 3.71, 3.83, 3.93, 4.02, 4.15, 4.25, 4.37, 4.46, 4.58, 4.68, 4.77, 4.90, 5.00, 5.12, 5.21, 5.33, 5.43, 5.52, 5.65, 5.75, 5.87, 5.96, 6.08, 6.18, 6.27, 6.40, 6.50, 6.62, 6.71, 6.83, 6.93, 7.02, 7.15, 7.25, 7.37, 7.46, 7.58, 7.68, 7.77, 7.90, 8.00, 8.12, 8.21, 8.33, 8.43, 8.52, 8.65, 8.75, 8.87, 8.96, 9.08, 9.18, 9.27]],
    [0.325, [2.03, 2.15, 2.24, 2.36, 2.46, 2.55, 2.68, 2.78, 2.90, 2.99, 3.11, 3.21, 3.30, 3.43, 3.53, 3.65, 3.74, 3.86, 3.96, 4.05, 4.18, 4.28, 4.40, 4.49, 4.61, 4.71, 4.80, 4.93, 5.03, 5.15, 5.24, 5.36, 5.46, 5.55, 5.68, 5.78, 5.90, 5.99, 6.11, 6.21, 6.30, 6.43, 6.53, 6.65, 6.74, 6.86, 6.96, 7.05, 7.18, 7.28, 7.40, 7.49, 7.61, 7.71, 7.80, 7.93, 8.03, 8.15, 8.24, 8.36, 8.46, 8.55, 8.68, 8.78, 8.90, 8.99, 9.11, 9.21, 9.30, 9.43]],
    [0.275, [2.06, 2.18, 2.27, 2.39, 2.49, 2.58, 2.71, 2.81, 2.93, 3.02, 3.14, 3.24, 3.33, 3.46, 3.56, 3.68, 3.77, 3.89, 3.99, 4.08, 4.21, 4.31, 4.43, 4.52, 4.64, 4.74, 4.83, 4.96, 5.06, 5.18, 5.27, 5.39, 5.49, 5.58, 5.71, 5.81, 5.93, 6.02, 6.14, 6.24, 6.33, 6.46, 6.56, 6.68, 6.77, 6.89, 6.99, 7.08, 7.21, 7.31, 7.43, 7.52, 7.64, 7.74, 7.83, 7.96, 8.06, 8.18, 8.27, 8.39, 8.49, 8.58, 8.71, 8.81, 8.93, 9.02, 9.14, 9.24, 9.33, 9.46]],
    [0.225, [2.01, 2.13, 2.22, 2.34, 2.44, 2.53, 2.66, 2.76, 2.88, 2.97, 3.09, 3.19, 3.28, 3.41, 3.51, 3.63, 3.72, 3.84, 3.94, 4.03, 4.16, 4.26, 4.38, 4.47, 4.59, 4.69, 4.78, 4.91, 5.01, 5.13, 5.22, 5.34, 5.44, 5.53, 5.66, 5.76, 5.88, 5.97, 6.09, 6.19, 6.28, 6.41, 6.51, 6.63, 6.72, 6.84, 6.94, 7.03, 7.16, 7.26, 7.38, 7.47, 7.59, 7.69, 7.78, 7.91, 8.01, 8.13, 8.22, 8.34, 8.44, 8.53, 8.66, 8.76, 8.88, 8.97, 9.09, 9.19, 9.28, 9.41, 9.51]],
    [0.175, [2.08, 2.20, 2.29, 2.41, 2.51, 2.60, 2.73, 2.83, 2.95, 3.04, 3.16, 3.26, 3.35, 3.48, 3.58, 3.70, 3.79, 3.91, 4.01, 4.10, 4.23, 4.33, 4.45, 4.54, 4.66, 4.76, 4.85, 4.98, 5.08, 5.20, 5.29, 5.41, 5.51, 5.60, 5.73, 5.83, 5.95, 6.04, 6.16, 6.26, 6.35, 6.48, 6.58, 6.70, 6.79, 6.91, 7.01, 7.10, 7.23, 7.33, 7.45, 7.54, 7.66, 7.76, 7.85, 7.98, 8.08, 8.20, 8.29, 8.41, 8.51, 8.60, 8.73, 8.83, 8.95, 9.04, 9.16, 9.26, 9.35, 9.48, 9.58]],
    [0.125, [2.04, 2.16, 2.25, 2.37, 2.47, 2.56, 2.69, 2.79, 2.91, 3.00, 3.12, 3.22, 3.31, 3.44, 3.54, 3.66, 3.75, 3.87, 3.97, 4.06, 4.19, 4.29, 4.41, 4.50, 4.62, 4.72, 4.81, 4.94, 5.04, 5.16, 5.25, 5.37, 5.47, 5.56, 5.69, 5.79, 5.91, 6.00, 6.12, 6.22, 6.31, 6.44, 6.54, 6.66, 6.75, 6.87, 6.97, 7.06, 7.19, 7.29, 7.41, 7.50, 7.62, 7.72, 7.81, 7.94, 8.04, 8.16, 8.25, 8.37, 8.47, 8.56, 8.69, 8.79, 8.91, 9.00, 9.12, 9.22, 9.31, 9.44, 9.54]],
    [0.075, [2.00, 2.12, 2.21, 2.33, 2.43, 2.52, 2.65, 2.75, 2.87, 2.96, 3.08, 3.18, 3.27, 3.40, 3.50, 3.62, 3.71, 3.83, 3.93, 4.02, 4.15, 4.25, 4.37, 4.46, 4.58, 4.68, 4.77, 4.90, 5.00, 5.12, 5.21, 5.33, 5.43, 5.52, 5.65, 5.75, 5.87, 5.96, 6.08, 6.18, 6.27, 6.40, 6.50, 6.62, 6.71, 6.83, 6.93, 7.02, 7.15, 7.25, 7.37, 7.46, 7.58, 7.68, 7.77, 7.90, 8.00, 8.12, 8.21, 8.33, 8.43, 8.52, 8.65, 8.75, 8.87, 8.96, 9.08, 9.18, 9.27, 9.40, 9.50, 9.62]],
    [0.025, [2.03, 2.15, 2.24, 2.36, 2.46, 2.55, 2.68, 2.78, 2.90, 2.99, 3.11, 3.21, 3.30, 3.43, 3.53, 3.65, 3.74, 3.86, 3.96, 4.05, 4.18, 4.28, 4.40, 4.49, 4.61, 4.71, 4.80, 4.93, 5.03, 5.15, 5.24, 5.36, 5.46, 5.55, 5.68, 5.78, 5.90, 5.99, 6.11, 6.21, 6.30, 6.43, 6.53, 6.65, 6.74, 6.86, 6.96, 7.05, 7.18, 7.28, 7.40, 7.49, 7.61, 7.71, 7.80, 7.93, 8.03, 8.15, 8.24, 8.36, 8.46, 8.55, 8.68, 8.78, 8.90, 8.99, 9.11, 9.21, 9.30, 9.43, 9.53, 9.65]],
    [-0.025, [2.06, 2.18, 2.27, 2.39, 2.49, 2.58, 2.71, 2.81, 2.93, 3.02, 3.14, 3.24, 3.33, 3.46, 3.56, 3.68, 3.77, 3.89, 3.99, 4.08, 4.21, 4.31, 4.43, 4.52, 4.64, 4.74, 4.83, 4.96, 5.06, 5.18, 5.27, 5.39, 5.49, 5.58, 5.71, 5.81, 5.93, 6.02, 6.14, 6.24, 6.33, 6.46, 6.56, 6.68, 6.77, 6.89, 6.99, 7.08, 7.21, 7.31, 7.43, 7.52, 7.64, 7.74, 7.83, 7.96, 8.06, 8.18, 8.27, 8.39, 8.49, 8.58, 8.71, 8.81, 8.93, 9.02, 9.14, 9.24, 9.33, 9.46, 9.56, 9.68]],
    [-0.075, [2.01, 2.13, 2.22, 2.34, 2.44, 2.53, 2.66, 2.76, 2.88, 2.97, 3.09, 3.19, 3.28, 3.41, 3.51, 3.63, 3.72, 3.84, 3.94, 4.03, 4.16, 4.26, 4.38, 4.47, 4.59, 4.69, 4.78, 4.91, 5.01, 5.13, 5.22, 5.34, 5.44, 5.53, 5.66, 5.76, 5.88, 5.97, 6.09, 6.19, 6.28, 6.41, 6.51, 6.63, 6.72, 6.84, 6.94, 7.03, 7.16, 7.26, 7.38, 7.47, 7.59, 7.69, 7.78, 7.91, 8.01, 8.13, 8.22, 8.34, 8.44, 8.53, 8.66, 8.76, 8.88, 8.97, 9.09, 9.19, 9.28, 9.41, 9.51, 9.63]],
    [-0.125, [2.08, 2.20, 2.29, 2.41, 2.51, 2.60, 2.73, 2.83, 2.95, 3.04, 3.16, 3.26, 3.35, 3.48, 3.58, 3.70, 3.79, 3.91, 4.01, 4.10, 4.23, 4.33, 4.45, 4.54, 4.66, 4.76, 4.85, 4.98, 5.08, 5.20, 5.29, 5.41, 5.51, 5.60, 5.73, 5.83, 5.95, 6.04, 6.16, 6.26, 6.35, 6.48, 6.58, 6.70, 6.79, 6.91, 7.01, 7.10, 7.23, 7.33, 7.45, 7.54, 7.66, 7.76, 7.85, 7.98, 8.08, 8.20, 8.29, 8.41, 8.51, 8.60, 8.73, 8.83, 8.95, 9.04, 9.16, 9.26, 9.35, 9.48]],
    [-0.175, [2.04, 2.16, 2.25, 2.37, 2.47, 2.56, 2.69, 2.79, 2.91, 3.00, 3.12, 3.22, 3.31, 3.44, 3.54, 3.66, 3.75, 3.87, 3.97, 4.06, 4.19, 4.29, 4.41, 4.50, 4.62, 4.72, 4.81, 4.94, 5.04, 5.16, 5.25, 5.37, 5.47, 5.56, 5.69, 5.79, 5.91, 6.00, 6.12, 6.22, 6.31, 6.44, 6.54, 6.66, 6.75, 6.87, 6.97, 7.06, 7.19, 7.29, 7.41, 7.50, 7.62, 7.72, 7.81, 7.94, 8.04, 8.16, 8.25, 8.37, 8.47, 8.56, 8.69, 8.79, 8.91, 9.00, 9.12, 9.22, 9.31, 9.44]],
    [-0.225, [2.00, 2.12, 2.21, 2.33, 2.43, 2.52, 2.65, 2.75, 2.87, 2.96, 3.08, 3.18, 3.27, 3.40, 3.50, 3.62, 3.71, 3.83, 3.93, 4.02, 4.15, 4.25, 4.37, 4.46, 4.58, 4.68, 4.77, 4.90, 5.00, 5.12, 5.21, 5.33, 5.43, 5.52, 5.65, 5.75, 5.87, 5.96, 6.08, 6.18, 6.27, 6.40, 6.50, 6.62, 6.71, 6.83, 6.93, 7.02, 7.15, 7.25, 7.37, 7.46, 7.58, 7.68, 7.77, 7.90, 8.00, 8.12, 8.21, 8.33, 8.43, 8.52, 8.65, 8.75, 8.87, 8.96, 9.08, 9.18, 9.27, 9.40]],
    [-0.275, [2.03, 2.15, 2.24, 2.36, 2.46, 2.55, 2.68, 2.78, 2.90, 2.99, 3.11, 3.21, 3.30, 3.43, 3.53, 3.65, 3.74, 3.86, 3.96, 4.05, 4.18, 4.28, 4.40, 4.49, 4.61, 4.71, 4.80, 4.93, 5.03, 5.15, 5.24, 5.36, 5.46, 5.55, 5.68, 5.78, 5.90, 5.99, 6.11, 6.21, 6.30, 6.43, 6.53, 6.65, 6.74, 6.86, 6.96, 7.05, 7.18, 7.28, 7.40, 7.49, 7.61, 7.71, 7.80, 7.93, 8.03, 8.15, 8.24, 8.36, 8.46, 8.55, 8.68, 8.78, 8.90, 8.99, 9.11, 9.21]],
    [-0.325, [2.06, 2.18, 2.27, 2.39, 2.49, 2.58, 2.71, 2.81, 2.93, 3.02, 3.14, 3.24, 3.33, 3.46, 3.56, 3.68, 3.77, 3.89, 3.99, 4.08, 4.21, 4.31, 4.43, 4.52, 4.64, 4.74, 4.83, 4.96, 5.06, 5.18, 5.27, 5.39, 5.49, 5.58, 5.71, 5.81, 5.93, 6.02, 6.14, 6.24, 6.33, 6.46, 6.56, 6.68, 6.77, 6.89, 6.99, 7.08, 7.21, 7.31, 7.43, 7.52, 7.64, 7.74, 7.83, 7.96, 8.06, 8.18, 8.27, 8.39, 8.49, 8.58, 8.71, 8.81, 8.93, 9.02]],
    [-0.375, [2.13, 2.22, 2.34, 2.44, 2.53, 2.66, 2.76, 2.88, 2.97, 3.09, 3.19, 3.28, 3.41, 3.51, 3.63, 3.72, 3.84, 3.94, 4.03, 4.16, 4.26, 4.38, 4.47, 4.59, 4.69, 4.78, 4.91, 5.01, 5.13, 5.22, 5.34, 5.44, 5.53, 5.66, 5.76, 5.88, 5.97, 6.09, 6.19, 6.28, 6.41, 6.51, 6.63, 6.72, 6.84, 6.94, 7.03, 7.16, 7.26, 7.38, 7.47, 7.59, 7.69, 7.78, 7.91, 8.01, 8.13, 8.22, 8.34, 8.44, 8.53, 8.66, 8.76, 8.88]],
    [-0.425, [2.20, 2.29, 2.41, 2.51, 2.60, 2.73, 2.83, 2.95, 3.04, 3.16, 3.26, 3.35, 3.48, 3.58, 3.70, 3.79, 3.91, 4.01, 4.10, 4.23, 4.33, 4.45, 4.54, 4.66, 4.76, 4.85, 4.98, 5.08, 5.20, 5.29, 5.41, 5.51, 5.60, 5.73, 5.83, 5.95, 6.04, 6.16, 6.26, 6.35, 6.48, 6.58, 6.70, 6.79, 6.91, 7.01, 7.10, 7.23, 7.33, 7.45, 7.54, 7.66, 7.76, 7.85, 7.98, 8.08, 8.20, 8.29, 8.41, 8.51, 8.60, 8.73]],
    [-0.475, [2.25, 2.37, 2.47, 2.56, 2.69, 2.79, 2.91, 3.00, 3.12, 3.22, 3.31, 3.44, 3.54, 3.66, 3.75, 3.87, 3.97, 4.06, 4.19, 4.29, 4.41, 4.50, 4.62, 4.72, 4.81, 4.94, 5.04, 5.16, 5.25, 5.37, 5.47, 5.56, 5.69, 5.79, 5.91, 6.00, 6.12, 6.22, 6.31, 6.44, 6.54, 6.66, 6.75, 6.87, 6.97, 7.06, 7.19, 7.29, 7.41, 7.50, 7.62, 7.72, 7.81, 7.94, 8.04, 8.16, 8.25, 8.37, 8.47, 8.56]],
    [-0.525, [2.21, 2.33, 2.43, 2.52, 2.65, 2.75, 2.87, 2.96, 3.08, 3.18, 3.27, 3.40, 3.50, 3.62, 3.71, 3.83, 3.93, 4.02, 4.15, 4.25, 4.37, 4.46, 4.58, 4.68, 4.77, 4.90, 5.00, 5.12, 5.21, 5.33, 5.43, 5.52, 5.65, 5.75, 5.87, 5.96, 6.08, 6.18, 6.27, 6.40, 6.50, 6.62, 6.71, 6.83, 6.93, 7.02, 7.15, 7.25, 7.37, 7.46, 7.58, 7.68, 7.77, 7.90, 8.00, 8.12, 8.21, 8.33]],
    [-0.575, [2.24, 2.36, 2.46, 2.55, 2.68, 2.78, 2.90, 2.99, 3.11, 3.21, 3.30, 3.43, 3.53, 3.65, 3.74, 3.86, 3.96, 4.05, 4.18, 4.28, 4.40, 4.49, 4.61, 4.71, 4.80, 4.93, 5.03, 5.15, 5.24, 5.36, 5.46, 5.55, 5.68, 5.78, 5.90, 5.99, 6.11, 6.21, 6.30, 6.43, 6.53, 6.65, 6.74, 6.86, 6.96, 7.05, 7.18, 7.28, 7.40, 7.49, 7.61, 7.71, 7.80, 7.93]],
    [-0.625, [2.39, 2.49, 2.58, 2.71, 2.81, 2.93, 3.02, 3.14, 3.24, 3.33, 3.46, 3.56, 3.68, 3.77, 3.89, 3.99, 4.08, 4.21, 4.31, 4.43, 4.52, 4.64, 4.74, 4.83, 4.96, 5.06, 5.18, 5.27, 5.39, 5.49, 5.58, 5.71, 5.81, 5.93, 6.02, 6.14, 6.24, 6.33, 6.46, 6.56, 6.68, 6.77, 6.89, 6.99, 7.08, 7.21, 7.31, 7.43, 7.52, 7.64]],
    [-0.675, [2.44, 2.53, 2.66, 2.76, 2.88, 2.97, 3.09, 3.19, 3.28, 3.41, 3.51, 3.63, 3.72, 3.84, 3.94, 4.03, 4.16, 4.26, 4.38, 4.47, 4.59, 4.69, 4.78, 4.91, 5.01, 5.13, 5.22, 5.34, 5.44, 5.53, 5.66, 5.76, 5.88, 5.97, 6.09, 6.19, 6.28, 6.41, 6.51, 6.63, 6.72, 6.84, 6.94, 7.03, 7.16, 7.26]],
    [-0.725, [2.51, 2.60, 2.73, 2.83, 2.95, 3.04, 3.16, 3.26, 3.35, 3.48, 3.58, 3.70, 3.79, 3.91, 4.01, 4.10, 4.23, 4.33, 4.45, 4.54, 4.66, 4.76, 4.85, 4.98, 5.08, 5.20, 5.29, 5.41, 5.51, 5.60, 5.73, 5.83, 5.95, 6.04, 6.16, 6.26, 6.35, 6.48, 6.58, 6.70, 6.79, 6.91]],
    [-0.775, [2.56, 2.69, 2.79, 2.91, 3.00, 3.12, 3.22, 3.31, 3.44, 3.54, 3.66, 3.75, 3.87, 3.97, 4.06, 4.19, 4.29, 4.41, 4.50, 4.62, 4.72, 4.81, 4.94, 5.04, 5.16, 5.25, 5.37, 5.47, 5.56, 5.69, 5.79, 5.91, 6.00, 6.12, 6.22, 6.31, 6.44, 6.54]],
    [-0.825, [2.68, 2.85, 3.03, 3.20, 3.38, 3.56, 3.73, 3.92, 4.10, 4.29, 4.48, 4.66, 4.86, 5.05, 5.24, 5.44, 5.63, 5.83, 6.03, 6.22, 6.43, 6.65, 6.88, 7.12, 7.40, 7.70, 8.02]],
    [-0.875, [2.75, 2.95, 3.14, 3.35, 3.55, 3.74, 3.95, 4.15, 4.36, 4.56, 4.77, 4.98, 5.19, 5.41, 5.62, 5.84, 6.06, 6.30, 6.55, 6.82, 7.10, 7.42, 7.78]],
    [-0.925, [2.82, 3.05, 3.27, 3.50, 3.72, 3.95, 4.18, 4.41, 4.64, 4.87, 5.11, 5.35, 5.59, 5.84, 6.10, 6.38, 6.68, 7.02]],
    [-0.975, [2.90, 3.16, 3.42, 3.68, 3.95, 4.21, 4.48, 4.75, 5.02, 5.30, 5.58, 5.88, 6.20, 6.55]],
    [-1.025, [2.97, 3.28, 3.58, 3.89, 4.19, 4.50, 4.80, 5.12, 5.44, 5.78, 6.14]],
    [-1.075, [3.07, 3.42, 3.76, 4.11, 4.46, 4.81, 5.17, 5.55]],
    [-1.125, [3.18, 3.58, 3.98, 4.38, 4.79, 5.21]],
    [-1.175, [3.33, 3.78, 4.23, 4.70]]
];

// Scattered non-significant genes: flat pairs of [mean log2 expression, log2 ratio]
const grayScatter = [
    3.48, 3.98, 3.72, 4.23, 4.46, 4.65, 4.65, 5.60, 3.87, 3.76, 3.48, 3.34, 3.79, 3.23, 3.87, 3.30,
    4.00, 3.11, 4.03, 3.00, 3.37, 2.95, 3.49, 2.89, 3.56, 2.78, 3.71, 2.76, 3.87, 2.82, 4.08, 2.64,
    4.01, 2.56, 3.04, 2.86, 3.21, 2.59, 3.16, 2.32, 3.49, 2.38, 3.72, 2.47, 3.48, 2.21, 3.71, 2.26,
    3.78, 2.21, 3.73, 2.08, 3.85, 1.82, 3.98, 1.70, 4.01, 2.01, 4.08, 1.90, 3.43, 1.98, 3.53, 1.95,
    3.50, 1.82, 3.66, 1.70, 3.34, 1.70, 3.27, 1.81, 3.07, 2.00, 3.04, 1.81, 2.86, 1.94, 2.74, 2.02,
    2.64, 2.39, 2.72, 2.49, 2.70, 2.26, 2.51, 2.24, 2.47, 2.05, 2.60, 2.07, 2.29, 1.92, 2.38, 1.75,
    2.51, 1.81, 2.65, 1.84, 2.79, 1.70, 2.93, 1.67, 3.11, 1.58, 3.30, 1.58, 3.43, 1.56, 3.57, 1.53,
    3.71, 1.47, 3.94, 1.50, 4.17, 1.47, 4.33, 1.81, 4.24, 1.75, 4.47, 2.01, 4.61, 2.04, 4.74, 1.98,
    4.56, 1.67, 4.70, 1.58, 4.95, 1.75, 5.07, 1.97, 4.86, 1.58, 5.14, 1.47, 5.23, 1.70, 5.41, 1.87,
    5.60, 1.81, 5.69, 1.64, 5.80, 1.75, 6.19, 1.81, 6.27, 1.41, 6.18, 1.33, 5.66, 2.66, 5.83, 3.34,
    5.26, 4.06, 5.31, 2.95, 4.71, 2.78, 4.46, 2.66, 4.77, 2.53, 4.70, 2.41, 4.61, 2.28, 4.82, 2.28,
    4.84, 2.19, 4.38, 2.24, 5.25, 2.47, 5.43, 2.09, 5.66, 1.92,
    4.29, 1.61, 4.54, 1.64, 4.81, 1.61, 4.98, 1.53, 5.18, 1.57, 5.66, 1.67, 6.15, 1.30, 6.26, 1.39,
    6.54, 1.53, 7.07, 1.24, 7.48, 1.47, 7.59, 1.08, 7.76, 0.96, 4.65, 1.47, 4.40, 1.53, 4.12, 1.58,
    3.92, 1.53, 5.37, 1.44, 5.66, 1.36, 5.78, 1.19, 6.01, 1.13, 4.58, 1.16, 4.26, 1.24, 4.03, 1.19,
    5.23, 1.19, 5.09, 1.36,
    2.35, 1.45, 2.45, 1.30, 2.55, 1.55, 2.40, 1.15, 2.50, 1.05, 2.70, 1.40, 2.85, 1.30, 2.90, 1.50,
    3.05, 1.42, 2.25, 1.25,
    6.10, 2.60, 6.35, 2.45, 6.02, 2.35, 5.75, 2.20, 5.95, 2.05, 6.05, 1.62, 5.55, 2.30, 5.15, 2.20,
    4.95, 2.35, 5.40, 2.65, 6.55, 1.72, 6.90, 1.68, 7.15, 1.55, 7.30, 1.68, 7.05, 2.55, 7.40, 2.05,
    7.60, 1.80, 7.85, 1.62, 8.15, 1.48, 8.35, 1.62, 8.05, 1.85, 8.80, 1.55, 8.95, 1.25, 9.25, 1.15,
    9.70, 1.10,
    6.67, 3.78, 6.26, 2.72, 6.38, 2.22, 6.51, 2.09, 6.49, 1.92, 6.38, 1.77, 7.16, 1.91, 9.66, 2.29,
    7.59, 1.51, 7.79, 1.44, 7.76, 1.33, 6.88, 1.50, 6.56, 1.52, 6.28, 1.40, 6.42, 1.38, 6.74, 1.27,
    7.01, 1.20, 7.14, 1.29, 7.32, 1.29, 7.49, 1.19, 7.89, 1.19, 8.06, 1.19, 8.31, 1.27, 8.44, 1.38,
    8.45, 1.16, 8.65, 1.47, 8.68, 1.30, 8.58, 1.03, 8.74, 0.82, 9.16, 1.53, 9.11, 1.13, 9.36, 1.37,
    9.45, 1.36, 9.50, 0.96, 9.37, 0.93, 9.94, 1.23, 9.92, 0.97, 10.22, 0.84, 10.22, 0.65, 10.26, 0.61,
    9.94, 0.58, 9.78, 0.71, 10.54, 0.71, 10.61, 0.69, 10.68, 0.68, 10.55, 0.57,
    7.95, 0.92, 8.20, 0.85, 8.40, 0.95, 8.65, 0.78, 8.90, 0.70, 9.05, 0.85, 9.25, 0.62, 9.45, 0.55,
    9.60, 0.42, 9.70, 0.30, 9.80, 0.15, 9.85, -0.05, 9.75, -0.20, 9.65, -0.35, 7.70, 0.98, 7.45, 1.02,
    8.10, 1.05,
    9.91, 0.39, 9.92, 0.18, 10.09, -0.27, 10.28, 0.44, 10.19, 0.23, 10.28, 0.22, 10.34, 0.07, 10.45, -0.06,
    10.47, 0.00, 10.51, 0.32, 10.51, 0.32, 10.72, -0.10, 10.85, -0.04, 10.80, -0.02, 10.93, 0.30, 11.07, 0.32,
    11.14, 0.20, 11.18, 0.17, 11.03, 0.03, 11.03, 0.03, 11.14, -0.20, 10.92, -0.31, 11.01, -0.50, 10.84, -0.65,
    10.57, -0.62, 10.35, -0.45, 10.31, -0.56, 10.17, -0.68, 10.37, -0.83, 10.27, -1.06, 10.01, -0.99, 9.78, -0.88,
    9.76, -0.57, 9.85, -0.45, 9.71, -0.74, 9.60, -0.75, 9.57, -0.48, 10.06, -0.58, 11.06, -1.22, 10.93, 0.89,
    11.09, 0.99, 11.47, 1.15, 11.50, 0.03, 11.49, -0.05, 11.49, -0.18, 11.57, 0.04, 11.66, -0.07, 11.78, -0.08,
    11.72, -0.25, 11.96, -0.17, 12.06, -0.23, 12.09, -0.31, 12.03, 0.14, 12.28, -0.07, 12.64, 0.03, 11.57, -0.59,
    11.89, -0.61, 12.02, -0.62, 9.47, -1.48, 9.28, -1.74, 9.60, -1.75, 8.88, -1.97, 9.04, -2.18, 9.46, -0.55,
    9.33, -0.72, 9.73, -0.89, 9.01, -0.74, 8.86, -0.93, 8.69, -0.89, 8.36, -1.04, 8.25, -1.13, 8.12, -1.12,
    8.04, -1.12, 7.84, -1.05, 7.76, -1.22, 7.83, -1.26, 8.10, -1.33, 8.12, -1.43, 8.56, -1.05, 8.85, -1.03,
    9.09, -0.95, 9.13, -0.88, 9.27, -1.05, 9.36, -1.03, 8.25, -2.41,
    13.07, -0.97, 13.78, 1.71, 14.48, 1.32, 13.14, 0.44, 12.92, 0.32, 12.72, -0.49, 13.32, -0.20, 14.33, -0.51,
    15.60, -0.65, 15.27, -1.43, 12.81, -0.07, 12.97, -0.10, 11.01, 2.41,
    7.55, -0.72, 7.80, -0.78, 8.05, -0.70, 8.30, -0.75, 7.95, -0.90, 8.45, -0.62, 8.70, -0.70, 8.95, -0.60,
    9.20, -0.55, 7.25, -0.95, 6.95, -0.88, 6.70, -0.92, 6.40, -0.98, 6.20, -0.85, 7.10, -0.78, 6.85, -0.75,
    8.55, -0.80, 8.85, -0.45, 9.10, -0.40, 9.30, -0.30,
    8.45, -1.25, 8.70, -1.20, 8.95, -1.35, 9.15, -1.25, 9.45, -1.15, 9.70, -1.30, 8.60, -1.55, 9.05, -1.60,
    8.80, -2.32,
    3.02, -1.57, 3.16, -1.80, 3.32, -1.98, 3.41, -1.78, 3.57, -1.56, 3.71, -1.41, 3.85, -1.58, 3.99, -1.87,
    4.12, -1.81, 4.26, -1.73, 4.39, -1.61, 4.63, -1.70, 4.77, -1.53, 4.84, -1.75, 4.98, -1.90, 4.86, -2.04,
    4.68, -2.15, 4.49, -2.21, 4.36, -2.09, 4.17, -1.99, 4.06, -1.87, 3.89, -1.86, 3.95, -2.03, 3.67, -2.28,
    3.55, -2.04, 3.43, -2.15, 3.30, -2.24, 3.17, -2.12, 3.02, -2.21, 2.91, -2.12, 2.77, -2.21, 2.68, -2.43,
    2.70, -2.49, 2.54, -2.89, 2.49, -3.34, 3.07, -2.89, 3.15, -2.95, 3.24, -3.06, 3.02, -3.12, 3.02, -3.12,
    2.99, -3.45, 2.99, -3.45, 3.19, -3.65, 3.45, -3.34, 3.50, -3.65, 3.43, -3.57, 3.32, -3.21, 3.57, -3.00,
    3.78, -3.41, 3.79, -3.96, 3.85, -4.02, 4.26, -3.93, 4.54, -3.82, 3.93, -2.97, 4.00, -2.93, 4.24, -3.08,
    4.37, -3.21, 4.48, -2.65, 4.87, -2.89, 4.92, -2.56, 5.62, -2.75, 5.69, -3.25, 5.95, -4.55, 5.99, -2.20,
    5.37, -2.26, 5.53, -2.16, 4.70, -2.38, 4.56, -2.22, 4.30, -2.32, 4.13, -2.56, 3.89, -2.38, 3.30, -1.73,
    3.14, -1.65, 2.98, -1.39, 2.77, -1.47, 2.65, -1.81, 2.74, -1.90, 2.93, -1.81, 2.51, -1.73, 2.61, -1.61,
    2.56, -1.33, 2.72, -1.22, 2.93, -1.13, 3.09, -1.07, 3.20, -1.22, 3.39, -1.19, 3.46, -1.36, 3.62, -1.30,
    3.76, -1.24, 3.85, -1.19, 4.12, -1.23, 4.31, -1.33, 4.49, -1.24, 4.61, -1.44, 4.72, -1.22, 4.86, -1.24,
    5.04, -1.24, 5.16, -1.41, 5.27, -1.58, 5.41, -1.81, 5.60, -1.64, 5.69, -1.87, 5.64, -1.36, 5.76, -1.30,
    5.87, -1.61, 6.10, -1.70, 6.22, -1.53, 6.33, -1.41, 6.47, -1.36, 6.63, -1.58, 7.16, -1.07, 7.34, -0.85,
    7.46, -0.76, 7.62, -1.05, 7.78, -1.19, 7.85, -1.06, 7.43, -1.56, 7.69, -1.73, 7.14, -2.66, 6.54, -2.29,
    6.00, -1.25, 6.25, -1.22, 6.55, -1.18, 6.95, -1.30, 7.25, -1.42, 7.05, -1.85, 6.75, -2.00, 6.25, -2.05,
    5.95, -2.45, 5.45, -2.45,
    2.35, -1.10, 2.45, -1.25, 2.55, -0.95, 2.40, -0.85, 2.65, -1.05, 2.30, -1.40, 2.50, -1.50, 5.09, -5.28,
    4.73, -5.70
];

// Significant genes: flat pairs of [mean log2 expression, log2 ratio]
const redScatter = [
    5.50, 4.71, 5.04, 4.38, 7.23, 4.41, 3.26, 3.74, 4.54, 3.43, 4.54, 3.16, 4.62, 3.06, 4.57, 2.97,
    5.89, 3.23, 3.14, 2.95, 3.19, 2.77, 3.22, 2.78, 3.91, 2.72, 4.06, 2.87, 3.62, 2.38, 3.72, 1.98,
    2.71, 1.20, 3.62, 1.34, 3.99, 1.34, 4.34, 1.43, 3.79, 1.05, 3.73, 0.81, 4.08, 0.88, 3.60, 0.68,
    2.74, 0.32, 3.53, 0.23, 4.90, 1.15, 5.06, 2.62, 5.22, 2.59, 5.48, 2.47, 6.09, 0.41, 5.32, 1.80,
    5.43, 1.96, 5.49, 1.91, 5.53, 1.57, 5.43, 1.36, 5.88, 1.41, 5.92, 1.19, 5.95, 1.91, 6.18, 2.17,
    6.17, 1.95, 10.18, 3.46, 10.39, 2.39, 7.82, 3.01, 7.98, 3.01, 7.66, 2.81, 7.72, 2.72, 7.77, 2.52,
    7.70, 2.37, 7.93, 2.43, 7.20, 2.71, 7.89, 1.99, 8.11, 1.75, 8.41, 2.24, 9.10, 2.48, 8.89, 1.92,
    9.22, 1.90, 9.51, 1.61, 8.69, 1.56, 9.18, 1.42, 8.52, 0.96, 6.33, 2.07, 6.56, 2.14, 6.73, 2.25,
    6.89, 2.34, 7.08, 2.14, 6.87, 1.81, 7.27, 1.78, 7.54, 1.77, 6.65, 1.44, 6.93, 1.11, 7.31, 1.21,
    7.43, 1.13, 6.62, 0.84, 8.67, -0.15, 10.11, 0.08,
    5.26, -0.06, 5.46, -0.27, 6.33, -0.21, 6.13, -0.40, 6.64, -0.38, 6.71, -0.28, 6.90, -0.36, 3.85, -0.28,
    2.23, -0.20, 2.23, -0.40, 2.66, -0.42,
    4.18, -0.65, 3.49, -0.72, 3.81, -0.54, 5.01, -0.72, 6.06, -0.65, 6.57, -0.67, 6.20, -0.53, 7.43, -0.54,
    2.85, -1.03, 3.57, -1.05, 3.67, -0.92, 3.77, -1.06, 3.89, -0.95, 4.03, -1.15, 3.95, -1.26, 3.32, -1.30,
    3.30, -1.40, 2.58, -1.16, 2.69, -1.33, 2.54, -1.51, 2.69, -1.53, 2.80, -1.48, 5.17, -1.14, 5.17, -0.85,
    5.36, -0.80, 5.32, -0.95, 5.46, -0.89, 5.53, -0.93, 5.39, -1.29, 5.37, -1.46, 5.63, -1.44, 5.85, -1.38,
    5.92, -1.56, 5.89, -0.90, 5.94, -1.02, 6.06, -1.13, 6.20, -1.12, 5.82, -1.19, 6.42, -1.14, 6.54, -1.53,
    6.68, -1.33, 6.74, -0.96, 6.88, -0.92, 6.79, -1.18, 7.00, -1.15, 7.06, -1.20, 7.17, -1.29, 7.11, -1.40,
    6.91, -1.50, 6.84, -1.64, 6.92, -1.61, 7.03, -1.57, 7.09, -1.67, 7.24, -1.66, 7.46, -1.69, 7.70, -1.53,
    7.48, -1.86, 7.55, -1.90, 7.64, -1.87, 7.70, -1.82, 7.68, -1.97, 7.33, -2.04, 7.20, -2.16, 7.27, -2.14,
    7.55, -2.20, 7.85, -2.30, 7.14, -2.48, 7.52, -2.65, 7.60, -2.73, 7.73, -2.87, 7.70, -3.00, 7.89, -3.07,
    7.34, -3.03, 7.21, -2.94, 7.61, -3.33, 6.94, -3.14, 6.84, -2.72, 6.87, -2.56, 6.72, -2.22, 6.66, -2.80,
    6.81, -2.90, 6.62, -3.38, 7.00, -4.06, 6.49, -3.17, 6.38, -3.11, 6.39, -2.78, 6.51, -2.61, 6.61, -2.43,
    6.39, -2.39, 6.29, -2.41, 6.22, -2.20, 6.18, -2.90, 6.16, -2.63, 6.40, -1.88, 6.38, -1.97, 6.66, -1.88,
    6.39, -1.74, 6.37, -1.61, 6.15, -1.78, 6.02, -1.85, 6.00, -1.79, 6.06, -1.95, 5.77, -1.90, 5.76, -1.99,
    5.59, -1.94, 5.40, -2.01, 5.37, -2.14, 5.22, -1.98, 5.09, -2.03, 5.11, -1.85, 5.14, -1.73, 5.07, -1.81,
    4.99, -1.71, 4.95, -1.56, 4.90, -1.52, 4.98, -2.21, 4.94, -2.28, 4.74, -1.87, 4.79, -1.99, 4.91, -1.99,
    4.55, -1.77, 4.53, -1.91, 4.45, -2.03, 4.42, -2.18, 4.30, -1.69, 4.31, -1.98, 4.23, -1.53, 4.18, -2.15,
    4.35, -2.35, 4.60, -2.41, 4.08, -2.39, 3.79, -1.94, 3.66, -1.67, 3.55, -2.26, 3.04, -2.37, 3.08, -2.41,
    3.17, -2.50, 3.01, -2.56, 3.05, -1.98, 2.91, -1.99, 2.58, -2.03, 2.72, -2.78, 3.38, -2.76, 3.34, -3.20,
    3.84, -3.48, 3.92, -3.37, 4.24, -3.21, 4.46, -3.20, 4.54, -3.03, 4.54, -3.27, 4.90, -3.43, 4.32, -3.61,
    5.06, -2.65, 5.20, -2.65, 5.17, -2.92, 5.46, -2.83, 5.49, -2.94, 5.43, -3.08, 5.54, -3.08, 5.81, -3.44,
    5.60, -2.53, 5.64, -2.31, 5.74, -2.31, 5.82, -2.61, 5.77, -2.90, 5.27, -4.61, 5.61, -4.80, 6.30, -4.73,
    4.32, -4.86, 4.55, -5.55, 8.25, -5.50, 11.93, -6.91,
    7.99, -0.88, 8.10, -0.89, 8.66, -1.04, 9.21, -0.78, 9.86, -1.03, 9.25, -1.17, 8.25, -1.39, 8.63, -1.39,
    8.80, -1.30, 8.82, -1.41, 8.27, -1.58, 8.34, -1.62, 9.19, -1.63, 9.60, -1.57, 9.99, -1.46, 10.22, -1.38,
    10.86, -1.45, 13.05, -1.26, 8.03, -1.85, 8.15, -1.94, 8.32, -1.84, 8.43, -1.97, 8.58, -1.92, 8.62, -1.86,
    8.95, -1.99, 9.00, -2.07, 9.55, -1.88, 9.60, -2.20, 10.49, -1.91, 10.51, -2.11, 11.19, -2.03, 11.75, -2.26,
    11.93, -2.63, 8.41, -2.29, 8.34, -2.39, 8.62, -2.37, 8.65, -2.29, 8.85, -2.43, 9.38, -2.32, 9.60, -2.50,
    9.72, -2.48, 10.15, -2.33, 10.39, -2.59, 9.95, -2.72, 9.34, -2.70, 9.34, -2.70, 8.77, -2.65, 8.29, -2.72,
    8.15, -2.75, 8.24, -2.92, 8.22, -3.08, 8.25, -3.15, 8.65, -2.92, 9.23, -3.51, 10.19, -3.62, 8.48, -3.76,
    13.30, -2.29
];

// Axis ticks and grid
const xMajor = [0, 5, 10, 15];
const xMinor = [2.5, 7.5, 12.5];
const yMajor = [-4, 0, 4];
const yMinor = [-6, -2, 2, 6];

const colors = {
    gray: '#A9A9A9',
    red: '#B22222',
    grid: '#EBEBEB',
    frame: '#333333',
    tickText: '#4D4D4D',
    text: '#000000'
};

/**
 * Convert summed counts into MA coordinates
 * @param {number} control - control count summed over replicates
 * @param {number} stress - stress count summed over replicates
 * @returns {Object} {a, m}
 */
function countsToMA(control, stress) {
    const c = control / REPLICATES;
    const s = stress / REPLICATES;
    return { a: Math.log2((c + s) / 2), m: Math.log2(s) - Math.log2(c) };
}

/**
 * Expand a lattice table into point records
 * @param {Array} table - rows of [fixed sum, genes per spot, other sums]
 * @param {boolean} fixedIsControl - true if the fixed sum belongs to control
 */
function latticePoints(table, fixedIsControl) {
    const out = [];
    table.forEach(([fixed, genes, others]) => {
        others.forEach(other => {
            const p = fixedIsControl ? countsToMA(fixed, other) : countsToMA(other, fixed);
            for (let k = 0; k < genes; k++) {
                out.push(p);
            }
        });
    });
    return out;
}

function pairsToPoints(flat) {
    const out = [];
    for (let i = 0; i < flat.length; i += 2) {
        out.push({ a: flat[i], m: flat[i + 1] });
    }
    return out;
}

function rowsToPoints(rows) {
    const out = [];
    rows.forEach(([m, values]) => {
        values.forEach(a => out.push({ a: a, m: m }));
    });
    return out;
}

function renderMAPlot(containerId) {
    const width = 1344;
    const height = 960;
    const panel = { left: 86, top: 64, right: 1328, bottom: 872.5 };

    const svg = d3.select(`#${containerId}`)
        .append('svg')
        .attr('width', width)
        .attr('height', height);

    svg.append('rect')
        .attr('width', width)
        .attr('height', height)
        .attr('fill', '#ffffff');

    const xScale = d3.scaleLinear()
        .domain([-0.758, 16.366])
        .range([panel.left, panel.right]);

    const yScale = d3.scaleLinear()
        .domain([-7.504, 6.216])
        .range([panel.bottom, panel.top]);

    const panelW = panel.right - panel.left;
    const panelH = panel.bottom - panel.top;
    const plainNumber = d => String(d);

    // Grid lines
    const grid = svg.append('g').attr('class', 'grid');

    const gridLayer = (axis, translate, strokeWidth) => {
        grid.append('g')
            .attr('transform', translate)
            .call(axis)
            .call(g => g.select('.domain').remove())
            .selectAll('.tick line')
            .attr('stroke', colors.grid)
            .attr('stroke-width', strokeWidth);
    };

    gridLayer(d3.axisBottom(xScale).tickValues(xMinor).tickSizeInner(-panelH).tickFormat(''),
        `translate(0, ${panel.bottom})`, 1.45);
    gridLayer(d3.axisLeft(yScale).tickValues(yMinor).tickSizeInner(-panelW).tickFormat(''),
        `translate(${panel.left}, 0)`, 1.45);
    gridLayer(d3.axisBottom(xScale).tickValues(xMajor).tickSizeInner(-panelH).tickFormat(''),
        `translate(0, ${panel.bottom})`, 2.9);
    gridLayer(d3.axisLeft(yScale).tickValues(yMajor).tickSizeInner(-panelW).tickFormat(''),
        `translate(${panel.left}, 0)`, 2.9);

    // Points: non-significant first, significant on top
    const grayPoints = [].concat(
        latticePoints(upperGray, true),
        latticePoints(lowerGray, false),
        rowsToPoints(coreRows),
        rowsToPoints(coreRowsBetween),
        pairsToPoints(grayScatter)
    );
    const redPoints = [].concat(
        latticePoints(upperRed, true),
        latticePoints(lowerRed, false),
        pairsToPoints(redScatter)
    );

    svg.append('clipPath')
        .attr('id', 'panel-clip')
        .append('rect')
        .attr('x', panel.left)
        .attr('y', panel.top)
        .attr('width', panelW)
        .attr('height', panelH);

    const pointLayer = svg.append('g').attr('clip-path', 'url(#panel-clip)');

    [[grayPoints, colors.gray], [redPoints, colors.red]].forEach(([pts, color]) => {
        pointLayer.append('g')
            .selectAll('circle')
            .data(pts)
            .enter()
            .append('circle')
            .attr('cx', d => xScale(d.a))
            .attr('cy', d => yScale(d.m))
            .attr('r', 4.3)
            .attr('fill', color)
            .attr('fill-opacity', 0.4)
            .attr('stroke', color)
            .attr('stroke-opacity', 0.4)
            .attr('stroke-width', 0.9);
    });

    // Panel border
    svg.append('rect')
        .attr('x', panel.left)
        .attr('y', panel.top)
        .attr('width', panelW)
        .attr('height', panelH)
        .attr('fill', 'none')
        .attr('stroke', colors.frame)
        .attr('stroke-width', 1.4);

    // X axis
    svg.append('g')
        .attr('transform', `translate(0, ${panel.bottom})`)
        .call(d3.axisBottom(xScale).tickValues(xMajor).tickSize(7.3).tickPadding(7).tickFormat(plainNumber))
        .call(g => g.select('.domain').remove())
        .call(g => g.selectAll('.tick line').attr('stroke', colors.frame).attr('stroke-width', 2.2))
        .selectAll('text')
        .attr('fill', colors.tickText)
        .style('font-size', '23.5px')
        .style('font-family', '"Liberation Sans", Arial, sans-serif');

    // Y axis
    svg.append('g')
        .attr('transform', `translate(${panel.left}, 0)`)
        .call(d3.axisLeft(yScale).tickValues(yMajor).tickSize(7.3).tickPadding(5.9).tickFormat(plainNumber))
        .call(g => g.select('.domain').remove())
        .call(g => g.selectAll('.tick line').attr('stroke', colors.frame).attr('stroke-width', 2.2))
        .selectAll('text')
        .attr('fill', colors.tickText)
        .style('font-size', '23.5px')
        .style('font-family', '"Liberation Sans", Arial, sans-serif');

    // Axis titles
    svg.append('text')
        .attr('x', (panel.left + panel.right) / 2)
        .attr('y', 940)
        .attr('text-anchor', 'middle')
        .attr('fill', colors.text)
        .style('font-size', '29.3px')
        .text('log2((control + stress) / 2)');

    svg.append('text')
        .attr('transform', `translate(36, ${(panel.top + panel.bottom) / 2}) rotate(-90)`)
        .attr('text-anchor', 'middle')
        .attr('fill', colors.text)
        .style('font-size', '29.3px')
        .text('log2(stress) - log2(control)');

    // Title
    svg.append('text')
        .attr('x', panel.left)
        .attr('y', 41)
        .attr('fill', colors.text)
        .style('font-size', '35px')
        .text('gamma');
}

renderMAPlot('chart');
</script>
</body>
</html>
